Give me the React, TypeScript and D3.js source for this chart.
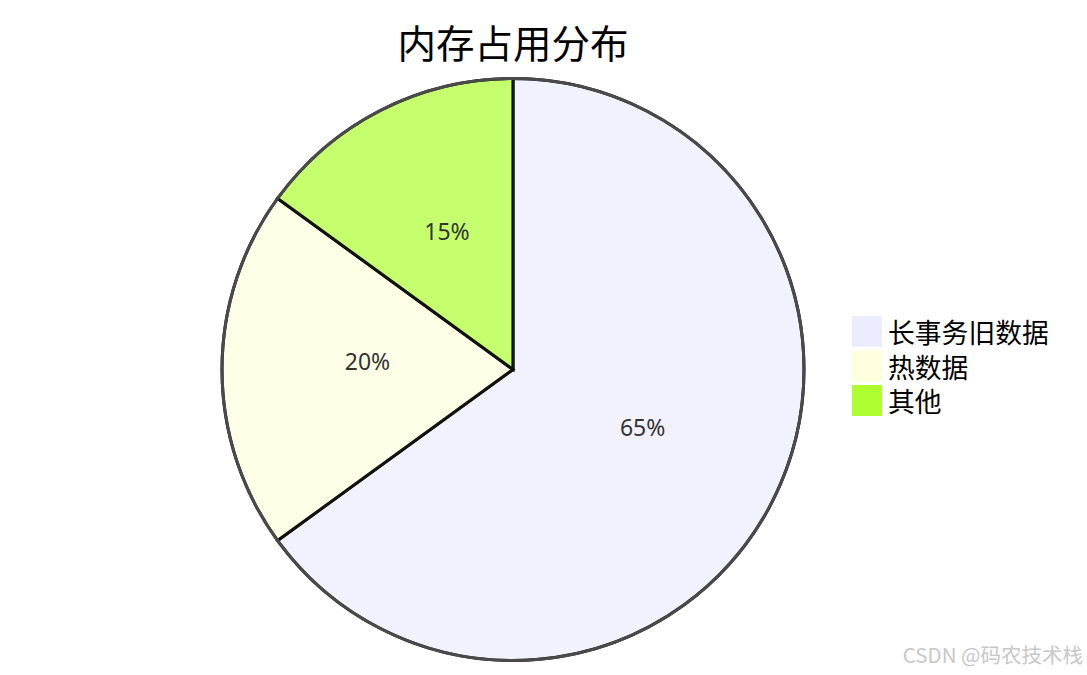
import React from "react";
import * as d3 from "d3";

const title = "内存占用分布";
const categories = ["长事务旧数据", "热数据", "其他"];
const values = [65, 20, 15];
const colors = ["#ECECFF", "#FFFFDE", "#ADFF2F"];
const watermark = "CSDN @码农技术栈";

const W = 1087;
const H = 675;
const cx = 513;
const cy = 369.5;
const R = 291;

export default function App() {
  const pie = d3.pie<number>().sort(null).value((d) => d);
  const arcs = pie(values);
  const arcGen = d3.arc<d3.PieArcDatum<number>>().innerRadius(0).outerRadius(R);
  const total = d3.sum(values);
  const legendY = d3.scaleLinear().domain([0, 1]).range([316, 350.5]);

  return (
    <svg
      width={W}
      height={H}
      style={{ position: "absolute", left: 0, top: 0, background: "#fff" }}
      fontFamily="'Noto Sans', 'Noto Sans CJK SC', sans-serif"
    >
      <text
        x={cx}
        y={41}
        textAnchor="middle"
        dominantBaseline="central"
        fontSize={38.5}
        fontFamily="'Noto Sans CJK SC', sans-serif"
        fill="#000"
      >
        {title}
      </text>
      <g transform={`translate(${cx},${cy})`}>
        {arcs.map((a, i) => (
          <path
            key={i}
            d={arcGen(a) || ""}
            fill={colors[i]}
            fillOpacity={0.7}
            stroke="#111"
            strokeWidth={3}
          />
        ))}
        <circle r={R} fill="none" stroke="#4a4a4a" strokeWidth={3} />
        {arcs.map((a, i) => {
          const [x, y] = arcGen.centroid(a);
          return (
            <text
              key={i}
              x={x}
              y={y}
              textAnchor="middle"
              fontSize={23}
              fill="#333"
              fontFamily="'Noto Sans', sans-serif"
            >
              {Math.round((values[i] / total) * 100) + "%"}
            </text>
          );
        })}
      </g>
      {categories.map((c, i) => (
        <g key={c}>
          <rect x={852} y={legendY(i)} width={30} height={31} fill={colors[i]} stroke="none" />
          <text
            x={888}
            y={legendY(i) + 15.5}
            dominantBaseline="central"
            fontSize={26.8}
            fontFamily="'Noto Sans CJK SC', sans-serif"
            fill="#000"
          >
            {c}
          </text>
        </g>
      ))}
      <text
        x={1083}
        y={663}
        textAnchor="end"
        fontSize={20.5}
        fill="#c8c8c8"
        fontFamily="'Noto Sans CJK SC', sans-serif"
      >
        {watermark}
      </text>
    </svg>
  );
}
